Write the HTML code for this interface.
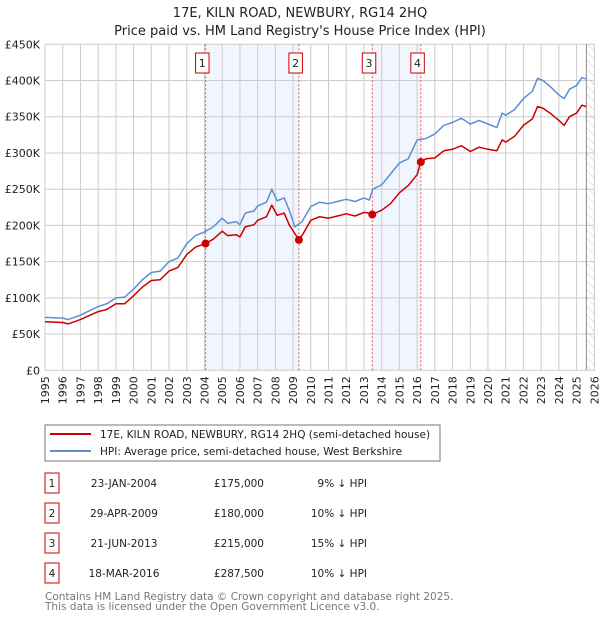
<!DOCTYPE html>
<html><head><meta charset="utf-8"><style>
body{margin:0;background:#fff;font-family:"Liberation Sans","DejaVu Sans",sans-serif}
svg text{font-family:"DejaVu Sans","Liberation Sans",sans-serif}
</style></head><body>
<svg id="c" width="600" height="620" xmlns="http://www.w3.org/2000/svg">
<defs><pattern id="hatch" width="6" height="6" patternUnits="userSpaceOnUse" patternTransform="rotate(-45)"><line x1="0" y1="0" x2="0" y2="6" stroke="#ccc" stroke-width="1"/></pattern></defs>
<text x="300" y="17" text-anchor="middle" font-size="13" fill="#222">17E, KILN ROAD, NEWBURY, RG14 2HQ</text>
<text x="300" y="35" text-anchor="middle" font-size="13" fill="#222">Price paid vs. HM Land Registry's House Price Index (HPI)</text>
<g id="plot"></g>
<rect x="45" y="425" width="395" height="36" fill="#fff" stroke="#777"/>
<line x1="50" y1="434" x2="91" y2="434" stroke="#cc0000" stroke-width="2"/>
<text x="100" y="438" font-size="10.5" fill="#222">17E, KILN ROAD, NEWBURY, RG14 2HQ (semi-detached house)</text>
<line x1="50" y1="451" x2="91" y2="451" stroke="#5b8fd0" stroke-width="2"/>
<text x="100" y="455" font-size="10.5" fill="#222">HPI: Average price, semi-detached house, West Berkshire</text>
<g id="table"></g>
<text x="45" y="600" font-size="10.5" fill="#777">Contains HM Land Registry data © Crown copyright and database right 2025.</text>
<text x="45" y="610" font-size="10.5" fill="#777">This data is licensed under the Open Government Licence v3.0.</text>
</svg>
<script>
const hpiYears=[1995,1996,1996.3,1997,1998,1998.5,1999,1999.5,2000,2000.5,2001,2001.5,2002,2002.5,2003,2003.5,2004,2004.5,2005,2005.3,2005.8,2006,2006.3,2006.8,2007,2007.5,2007.8,2008.1,2008.5,2008.8,2009.1,2009.5,2010,2010.5,2011,2011.5,2012,2012.5,2013,2013.3,2013.5,2014,2014.5,2015,2015.5,2016,2016.5,2017,2017.5,2018,2018.5,2019,2019.5,2020,2020.5,2020.8,2021,2021.5,2022,2022.5,2022.8,2023.1,2023.5,2024,2024.3,2024.6,2025,2025.3,2025.55];
const hpiValues=[73,72,70,76,88,92,100,101,112,125,135,137,150,155,175,186,191,198,210,203,205,201,217,220,227,232,250,234,238,220,198,205,226,232,230,233,236,233,238,235,250,256,271,286,292,318,320,326,338,342,348,340,345,340,335,355,352,360,375,385,403,400,392,380,375,388,393,404,402];
const redYears=[1995,1996,1996.3,1997,1998,1998.5,1999,1999.5,2000,2000.5,2001,2001.5,2002,2002.5,2003,2003.5,2004.06,2004.5,2005,2005.3,2005.8,2006,2006.3,2006.8,2007,2007.5,2007.8,2008.1,2008.5,2008.8,2009.33,2009.6,2010,2010.5,2011,2011.5,2012,2012.5,2013,2013.3,2013.47,2014,2014.5,2015,2015.5,2016,2016.21,2016.5,2017,2017.5,2018,2018.5,2019,2019.5,2020,2020.5,2020.8,2021,2021.5,2022,2022.5,2022.8,2023.1,2023.5,2024,2024.3,2024.6,2025,2025.3,2025.55];
const redValues=[67,66,64,70,81,84,92,92,103,115,124,125,137,142,160,170,175,181,192,186,187,184,198,201,207,212,228,214,217,200,180,190,207,212,210,213,216,213,218,217,215,221,230,245,255,270,287.5,292,293,303,305,310,302,308,305,303,318,315,323,338,347,364,362,355,345,338,350,355,366,364];
const saleYears=[2004.06,2009.33,2013.47,2016.21];
const salePrices=[175,180,215,287.5];
const saleLabels=["1","2","3","4"];
const saleDates=["23-JAN-2004","29-APR-2009","21-JUN-2013","18-MAR-2016"];
const salePriceText=["£175,000","£180,000","£215,000","£287,500"];
const saleDiff=["9% ↓ HPI","10% ↓ HPI","15% ↓ HPI","10% ↓ HPI"];
const yTicks=[0,50,100,150,200,250,300,350,400,450];
const yTickLabels=["£0","£50K","£100K","£150K","£200K","£250K","£300K","£350K","£400K","£450K"];
const xTicks=[];for(let y=1995;y<=2026;y++)xTicks.push(y);

const NS="http://www.w3.org/2000/svg";
const X0=45,X1=594.3,Y0=370.3,Y1=44.3;
const xs=v=>X0+(v-1995)/31*(X1-X0);
const ys=v=>Y0-v/450*(Y0-Y1);
const plot=document.getElementById('plot');
function mk(tag,attrs,parent){const e=document.createElementNS(NS,tag);for(const k in attrs)e.setAttribute(k,attrs[k]);(parent||plot).appendChild(e);return e;}
for(let i=0;i<saleYears.length;i+=2){
 const r=mk('rect',{x:xs(saleYears[i]),y:Y1,width:xs(saleYears[i+1])-xs(saleYears[i]),height:Y0-Y1,fill:'#f1f5fd'});
 
 
}
const hs=mk('rect',{x:xs(2025.55),y:Y1,width:X1-xs(2025.55),height:Y0-Y1,fill:'url(#hatch)'});


xTicks.forEach(t=>{
 const l=mk('line',{x1:xs(t),x2:xs(t),y1:Y1,y2:Y0,stroke:'#ccc','stroke-width':1});
 
 
 const tx=mk('text',{x:0,y:0,transform:`translate(${xs(t)+4},${Y0+6}) rotate(-90)`,'text-anchor':'end','font-size':11,fill:'#222'});
 tx.textContent=t;
 
 
});
yTicks.forEach((t,i)=>{
 const l=mk('line',{x1:X0,x2:X1,y1:ys(t),y2:ys(t),stroke:'#ccc','stroke-width':1});
 
 
 const tx=mk('text',{x:X0-5,y:ys(t)+4,'text-anchor':'end','font-size':11,fill:'#222'});
 tx.textContent=yTickLabels[i];
 
 
});
const ed=mk('line',{x1:xs(2025.55),x2:xs(2025.55),y1:Y1,y2:Y0,stroke:'#888','stroke-width':1});


saleYears.forEach((s,i)=>{
 const l=mk('line',{x1:xs(s),x2:xs(s),y1:Y1,y2:Y0,stroke:'#e55','stroke-width':1,'stroke-dasharray':'2,2'});
 
 
 const b=mk('rect',{x:xs(s)-10,y:53,width:13.5,height:20,fill:'#fff',stroke:'#cc0000'});
 
 
 const t=mk('text',{x:xs(s)-3.3,y:67,'text-anchor':'middle','font-size':11,fill:'#222'});
 t.textContent=saleLabels[i];
 
 
});
function path(xa,va,col,name){
 const d=xa.map((x,i)=>(i?'L':'M')+xs(x).toFixed(1)+','+ys(va[i]).toFixed(1)).join(' ');
 const p=mk('path',{d:d,fill:'none',stroke:col,'stroke-width':1.5,'stroke-linejoin':'round'});
 
 
}
path(hpiYears,hpiValues,'#5b8fd0','hpi-line');
path(redYears,redValues,'#cc0000','property-price-line');
saleYears.forEach((s,i)=>{
 const c=mk('circle',{cx:xs(s),cy:ys(salePrices[i]),r:4,fill:'#cc0000'});
 
 
});
const tb=document.getElementById('table');
saleYears.forEach((s,i)=>{
 const y=483+i*30;
 const b=mk('rect',{x:45,y:y-10,width:14,height:20,fill:'#fff',stroke:'#cc0000'},tb);
 
 
 const cells=[[52,saleLabels[i],'middle'],[124,saleDates[i],'middle'],[264,salePriceText[i],'end'],[367,saleDiff[i],'end']];
 cells.forEach(c=>{
  const t=mk('text',{x:c[0],y:y+4,'text-anchor':c[2],'font-size':10.5,fill:'#222'},tb);
  t.textContent=c[1];
  
  
 });
});
</script>
</body></html>
